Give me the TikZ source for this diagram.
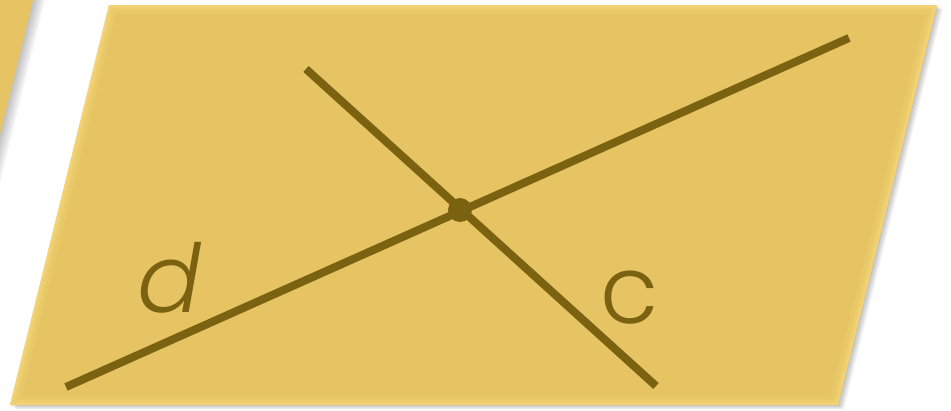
\documentclass[tikz,border=0pt]{standalone}
\usepackage{fontspec}
\newfontfamily\lblfont{Poppins Light}
\usetikzlibrary{positioning}
\definecolor{planefill}{HTML}{E6C463}
\definecolor{planerim}{HTML}{F9DA7C}
\definecolor{lineink}{HTML}{7A6210}

\begin{document}
\begin{tikzpicture}[x=0.02cm,y=-0.02cm,
  plane/.style={fill=planefill},
  shade/.style={fill=black,opacity=0.045},
  rimline/.style={draw=planerim,line join=miter},
  ln/.style={draw=lineink,line width=0.16cm},
  pt/.style={circle,fill=lineink,inner sep=0pt,minimum size=0.48cm},
  lbl/.style={text=lineink,inner sep=0pt,font=\lblfont\fontsize{54}{54}\selectfont}
]
\useasboundingbox (0,0) rectangle (951,410);
\clip (0,0) rectangle (951,410);
% plane in the back, cut off at the left
\foreach \k in {2,4,...,12}
  \fill[shade] ([xshift=\k*0.02cm]-300,-20) -- ([xshift=\k*0.02cm]38,-20) -- ([xshift=\k*0.02cm]-68,410) -- ([xshift=\k*0.02cm]-300,410) -- cycle;
\fill[plane] (-300,-20) -- (38,-20) -- (-68,410) -- (-300,410) -- cycle;
% main plane
\foreach \k in {1,2,...,6}
  \fill[shade] ([shift={(\k*0.02cm,-\k*0.014cm)}]109,5) -- ([shift={(\k*0.02cm,-\k*0.014cm)}]937,5) -- ([shift={(\k*0.02cm,-\k*0.014cm)}]838,405) -- ([shift={(\k*0.02cm,-\k*0.014cm)}]10,405) -- cycle;
\fill[plane] (109,5) -- (937,5) -- (838,405) -- (10,405) -- cycle;
\begin{scope}
  \clip (109,5) -- (937,5) -- (838,405) -- (10,405) -- cycle;
  \draw[rimline,line width=0.36cm,opacity=0.2] (109,5) -- (937,5) -- (838,405) -- (10,405) -- cycle;
  \draw[rimline,line width=0.2cm,opacity=0.3] (109,5) -- (937,5) -- (838,405) -- (10,405) -- cycle;
  \draw[rimline,line width=0.1cm,opacity=0.45] (109,5) -- (937,5) -- (838,405) -- (10,405) -- cycle;
\end{scope}

% the two lines and where they meet
\coordinate (d1) at (66,387);
\coordinate (d2) at (849,38);
\coordinate (c1) at (306,69);
\coordinate (c2) at (656,386);
\draw[ln] (d1) -- (d2);
\draw[ln] (c1) -- (c2);
\node[pt] (x) at (460,210) {};

\node[lbl,anchor=base] (ld) at (170,312) {\itshape d};
\node[lbl,anchor=base] (lc) at (630,323) {c};
\end{tikzpicture}
\end{document}
